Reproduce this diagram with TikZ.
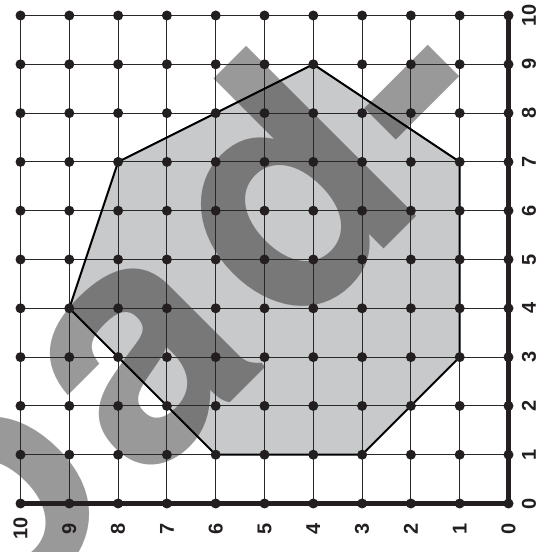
\documentclass[tikz,border=0pt]{standalone}
\usepackage{fontspec}
\setmainfont{Liberation Sans}
\newfontfamily\wmfont{TeX Gyre Heros}
\definecolor{polyfill}{RGB}{200,201,203}
\definecolor{dotcol}{RGB}{35,31,32}
\definecolor{gridcol}{RGB}{40,40,40}
\tikzset{
  gridline/.style={draw=gridcol, line width=0.9pt},
  polyline/.style={draw=black, line width=2pt, line join=miter},
  axisline/.style={draw=dotcol, line width=4.5pt},
  dotnode/.style={circle, fill=dotcol, inner sep=0pt, minimum size=10pt},
  lab/.style={font=\fontsize{20}{20}\selectfont\bfseries, text=dotcol, rotate=90, inner sep=0pt},
  watermark/.style={font=\wmfont\fontsize{330}{330}\selectfont\bfseries, text=black, text opacity=0.4, inner sep=0pt}
}
\begin{document}
\begin{tikzpicture}[x=1pt,y=1pt]
\useasboundingbox (0,0) rectangle (536,552);
\begin{scope}[shift={(508.5pt,48.5pt)}, x={(-48.8pt,0pt)}, y={(0pt,48.8pt)}]
  \foreach \u in {0,...,10} {
    \foreach \v in {0,...,10} {
      \coordinate (p-\u-\v) at (\u,\v);
    }
  }
  \foreach \i in {0,...,10} {
    \coordinate (bl-\i) at (\i,-0.52);
    \coordinate (rl-\i) at (-0.42,\i);
  }
\end{scope}
% polygon fill
\fill[polyfill] (p-4-9) -- (p-1-7) -- (p-1-3) -- (p-3-1) -- (p-6-1) -- (p-9-4) -- (p-8-7) -- cycle;
% watermark
\begin{scope}
  \clip (0,0) rectangle (536,552);
  \node[watermark, anchor=base west, rotate=45] (wm) at (-11.6,-92.6) {o\kern17.5pt a\kern22.5pt d\kern10pt -};
\end{scope}
% grid
\foreach \i in {0,...,10} {
  \draw[gridline] (p-\i-0) -- (p-\i-10);
  \draw[gridline] (p-0-\i) -- (p-10-\i);
}
% polygon outline
\draw[polyline] (p-4-9) -- (p-1-7) -- (p-1-3) -- (p-3-1) -- (p-6-1) -- (p-9-4) -- (p-8-7) -- cycle;
% axes
\draw[axisline] (p-10-0) -- (p-0-0) -- (p-0-10);
% dots
\foreach \u in {0,...,10} {
  \foreach \v in {0,...,10} {
    \node[dotnode] (d-\u-\v) at (p-\u-\v) {};
  }
}
% labels
\foreach \i in {0,...,10} {
  \node[lab] (blab-\i) at (bl-\i) {\i};
  \node[lab] (rlab-\i) at (rl-\i) {\i};
}
\end{tikzpicture}
\end{document}
